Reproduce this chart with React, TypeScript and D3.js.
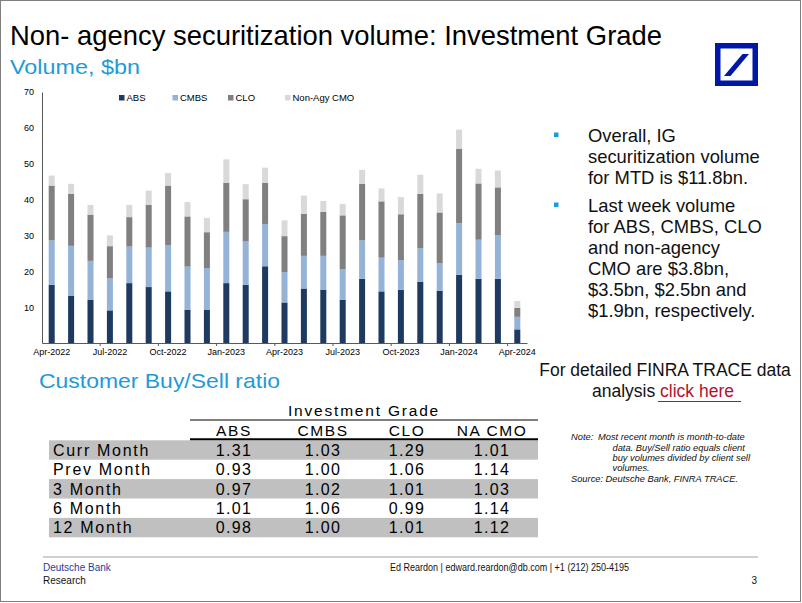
import * as d3 from "d3";
import React, { useRef, useEffect } from "react";

// monthly IG volume, $bn
const months = [
  "Apr-2022", "May-2022", "Jun-2022", "Jul-2022", "Aug-2022", "Sep-2022",
  "Oct-2022", "Nov-2022", "Dec-2022", "Jan-2023", "Feb-2023", "Mar-2023",
  "Apr-2023", "May-2023", "Jun-2023", "Jul-2023", "Aug-2023", "Sep-2023",
  "Oct-2023", "Nov-2023", "Dec-2023", "Jan-2024", "Feb-2024", "Mar-2024",
  "Apr-2024",
];
const absVol = [16.2, 13.2, 12.0, 9.1, 16.7, 15.6, 14.4, 9.3, 9.2, 16.7, 16.2, 21.4, 11.3, 15.2, 14.9, 12.0, 17.9, 14.4, 14.8, 17.1, 14.6, 19.0, 17.9, 17.9, 3.8];
const cmbsVol = [12.4, 13.9, 10.9, 8.9, 10.2, 11.0, 12.9, 12.0, 11.7, 14.3, 12.1, 11.8, 8.5, 9.1, 9.4, 8.6, 10.7, 9.4, 8.3, 9.3, 7.7, 14.4, 10.9, 12.1, 3.5];
const cloVol = [15.3, 14.5, 12.9, 9.0, 8.2, 11.9, 16.6, 14.0, 10.0, 13.7, 11.8, 11.5, 10.0, 11.7, 12.3, 15.0, 15.8, 15.7, 12.8, 15.2, 14.1, 20.8, 15.7, 13.4, 2.5];
const nonAgyVol = [2.8, 2.8, 2.7, 3.0, 3.4, 4.0, 3.5, 4.0, 4.0, 6.5, 4.2, 4.2, 4.4, 5.1, 3.0, 3.2, 3.9, 3.6, 4.8, 5.3, 5.3, 5.3, 4.1, 4.7, 1.9];
const seriesNames = ["ABS", "CMBS", "CLO", "Non-Agy CMO"];
const seriesColors = ["#1f3a60", "#95b3d7", "#808080", "#d9d9d9"];
const yTicks = [10, 20, 30, 40, 50, 60, 70];
const xLabels = ["Apr-2022", "Jul-2022", "Oct-2022", "Jan-2023", "Apr-2023", "Jul-2023", "Oct-2023", "Jan-2024", "Apr-2024"];

// buy/sell ratio table
const tableCols = ["ABS", "CMBS", "CLO", "NA CMO"];
const tableRows = ["Curr Month", "Prev Month", "3 Month", "6 Month", "12 Month"];
const ratioAbs = ["1.31", "0.93", "0.97", "1.01", "0.98"];
const ratioCmbs = ["1.03", "1.00", "1.02", "1.06", "1.00"];
const ratioClo = ["1.29", "1.06", "1.01", "0.99", "1.01"];
const ratioNaCmo = ["1.01", "1.14", "1.03", "1.14", "1.12"];

const bullets = [
  ["Overall, IG", "securitization volume", "for MTD is $11.8bn."],
  ["Last week volume", "for ABS, CMBS, CLO", "and non-agency", "CMO are $3.8bn,", "$3.5bn, $2.5bn and", "$1.9bn, respectively."],
];
const noteLines = [
  "data. Buy/Sell ratio equals client",
  "buy volumes divided by client sell",
  "volumes.",
];

const BLUE = "#1e9bd7";
const SANS = "'Liberation Sans', Arial, sans-serif";
const NARROW = "'Liberation Sans Narrow', 'Arial Narrow', 'Liberation Sans', sans-serif";
const margin = { left: 42, right: 527, top: 92, bottom: 343 };

const drawChart = (node: any) => {
  const svg = d3.select(node);
  svg.selectAll("*").remove();

  const x = d3
    .scaleBand()
    .domain(months)
    .range([margin.left, margin.right])
    .paddingInner(0.69)
    .paddingOuter(0.345);
  const y = d3.scaleLinear().domain([0, 70]).range([margin.bottom, margin.top]);

  const rows = months.map((m, i) => ({
    month: m,
    s0: absVol[i],
    s1: cmbsVol[i],
    s2: cloVol[i],
    s3: nonAgyVol[i],
  }));
  const stack = d3.stack<any>().keys(["s0", "s1", "s2", "s3"]);
  const layers = stack(rows);

  svg
    .selectAll("g.layer")
    .data(layers)
    .enter()
    .append("g")
    .attr("class", "layer")
    .attr("fill", (d: any, i: number) => seriesColors[i])
    .selectAll("rect")
    .data((d: any) => d)
    .enter()
    .append("rect")
    .attr("x", (d: any) => x(d.data.month))
    .attr("y", (d: any) => y(d[1]))
    .attr("width", x.bandwidth())
    .attr("height", (d: any) => y(d[0]) - y(d[1]));

  // y axis
  const yAxis = svg
    .append("g")
    .attr("transform", "translate(" + margin.left + ",0)")
    .call(d3.axisLeft(y).tickValues(yTicks).tickSize(0).tickSizeOuter(0).tickPadding(8));
  yAxis.select(".domain").attr("stroke", "#595959");
  yAxis.selectAll("text").attr("font-family", SANS).attr("font-size", 9).attr("fill", "#000");

  // x axis
  const xAxis = svg
    .append("g")
    .attr("transform", "translate(0," + margin.bottom + ")")
    .call(d3.axisBottom(x).tickValues(xLabels).tickSize(0).tickSizeOuter(0).tickPadding(6));
  xAxis.select(".domain").attr("stroke", "#595959");
  xAxis.selectAll("text").attr("font-family", SANS).attr("font-size", 9).attr("fill", "#000");

  // tick marks between categories, every 3 months
  const gap = (x.step() - x.bandwidth()) / 2;
  svg
    .append("g")
    .selectAll("line")
    .data(xLabels.slice(1))
    .enter()
    .append("line")
    .attr("x1", (d: string) => (x(d) as number) - gap)
    .attr("x2", (d: string) => (x(d) as number) - gap)
    .attr("y1", margin.bottom)
    .attr("y2", margin.bottom + 3)
    .attr("stroke", "#595959");

  // legend
  const legX = [119, 172.5, 228, 285];
  const leg = svg
    .append("g")
    .selectAll("g")
    .data(seriesNames)
    .enter()
    .append("g")
    .attr("transform", (d: string, i: number) => "translate(" + legX[i] + ",95)");
  leg
    .append("rect")
    .attr("width", 5.5)
    .attr("height", 5.5)
    .attr("fill", (d: string, i: number) => seriesColors[i]);
  leg
    .append("text")
    .attr("x", 7.5)
    .attr("y", 5.5)
    .attr("font-family", SANS)
    .attr("font-size", 9.5)
    .text((d: string) => d);
};

function App() {
  const ref = useRef<any>();
  useEffect(() => {
    drawChart(ref.current);
  }, []);

  const colX = [234, 323, 407, 492];
  const colData = [ratioAbs, ratioCmbs, ratioClo, ratioNaCmo];
  const rowTop = 440.3;
  const rowH = 19.4;

  return (
    <svg
      width={802}
      height={603}
      style={{ position: "absolute", left: 0, top: 0, background: "#fff" }}
    >
      <rect x={0.5} y={0.5} width={800} height={601} fill="#fff" stroke="#7f7f7f" />

      {/* header */}
      <text x={10} y={45} fontFamily={NARROW} fontSize={28} textLength={652} lengthAdjust="spacingAndGlyphs">
        Non- agency securitization volume: Investment Grade
      </text>
      <text x={10} y={74} fontFamily={NARROW} fontSize={21} fill={BLUE} textLength={130} lengthAdjust="spacingAndGlyphs">
        Volume, $bn
      </text>

      {/* logo */}
      <rect x={715} y={43} width={43} height={43} fill="#0018a8" />
      <rect x={720.5} y={48.5} width={32} height={32} fill="#fff" />
      <polygon points="724,76 730.5,76 749,54 742.5,54" fill="#0018a8" />

      <g ref={ref}></g>

      {/* commentary */}
      {bullets.map((lines, b) => {
        const base = b === 0 ? 141.5 : 211.5;
        return (
          <g key={b}>
            <rect x={554} y={base - 9} width={4.5} height={4.5} fill={BLUE} />
            {lines.map((l, i) => (
              <text key={i} x={588} y={base + i * 21} fontFamily={SANS} fontSize={18.4} fill="#111">
                {l}
              </text>
            ))}
          </g>
        );
      })}

      <text x={665} y={375.5} textAnchor="middle" fontFamily={SANS} fontSize={17.5} fill="#111">
        For detailed FINRA TRACE data
      </text>
      <text x={592} y={396.5} fontFamily={SANS} fontSize={17.5} fill="#111">
        analysis <tspan fill="#b3122e">click here</tspan>
      </text>
      <line x1={658} x2={741} y1={401.5} y2={401.5} stroke="#b3122e" strokeWidth={1.2} />

      {/* table */}
      <text x={39} y={388} fontFamily={NARROW} fontSize={21} fill={BLUE} textLength={241} lengthAdjust="spacingAndGlyphs">
        Customer Buy/Sell ratio
      </text>
      <text x={364} y={416} textAnchor="middle" fontFamily={SANS} fontSize={15.5} letterSpacing={1.8}>
        Investment Grade
      </text>
      <line x1={190} x2={538} y1={420} y2={420} stroke="#000" strokeWidth={1} />
      {tableCols.map((c, i) => (
        <text key={c} x={colX[i]} y={435.5} textAnchor="middle" fontFamily={SANS} fontSize={15.5} letterSpacing={1.6}>
          {c}
        </text>
      ))}
      {tableRows.map((r, j) => (
        <g key={r}>
          {j % 2 === 0 && <rect x={49} y={rowTop + j * rowH} width={489} height={rowH} fill="#c0c0c0" />}
          <text x={53} y={rowTop + j * rowH + 15.5} fontFamily={SANS} fontSize={16} letterSpacing={1.7}>
            {r}
          </text>
          {colData.map((vals, i) => (
            <text key={i} x={colX[i]} y={rowTop + j * rowH + 15.5} textAnchor="middle" fontFamily={SANS} fontSize={16} letterSpacing={1.4}>
              {vals[j]}
            </text>
          ))}
        </g>
      ))}
      <line x1={190} x2={538} y1={439.3} y2={439.3} stroke="#000" strokeWidth={2} />

      {/* notes */}
      <g fontFamily={SANS} fontSize={9.3} fontStyle="italic" fill="#111">
        <text x={571} y={440}>Note:</text>
        <text x={598} y={440}>Most recent month is month-to-date</text>
        {noteLines.map((l, i) => (
          <text key={i} x={612.5} y={450.5 + i * 10.3}>
            {l}
          </text>
        ))}
        <text x={571} y={482}>Source: Deutsche Bank, FINRA TRACE.</text>
      </g>

      {/* footer */}
      <line x1={43} x2={758} y1={557} y2={557} stroke="#d0d0d0" strokeWidth={2} />
      <text x={43} y={571} fontFamily={NARROW} fontSize={10} fill="#2a3a9e">Deutsche Bank</text>
      <text x={43} y={584} fontFamily={NARROW} fontSize={10} fill="#111">Research</text>
      <text x={390} y={571} fontFamily={NARROW} fontSize={10} fill="#111" textLength={239} lengthAdjust="spacingAndGlyphs">
        Ed Reardon | edward.reardon@db.com | +1 (212) 250-4195
      </text>
      <text x={757} y={584} textAnchor="end" fontFamily={NARROW} fontSize={10} fill="#111">3</text>
    </svg>
  );
}

export default App;
